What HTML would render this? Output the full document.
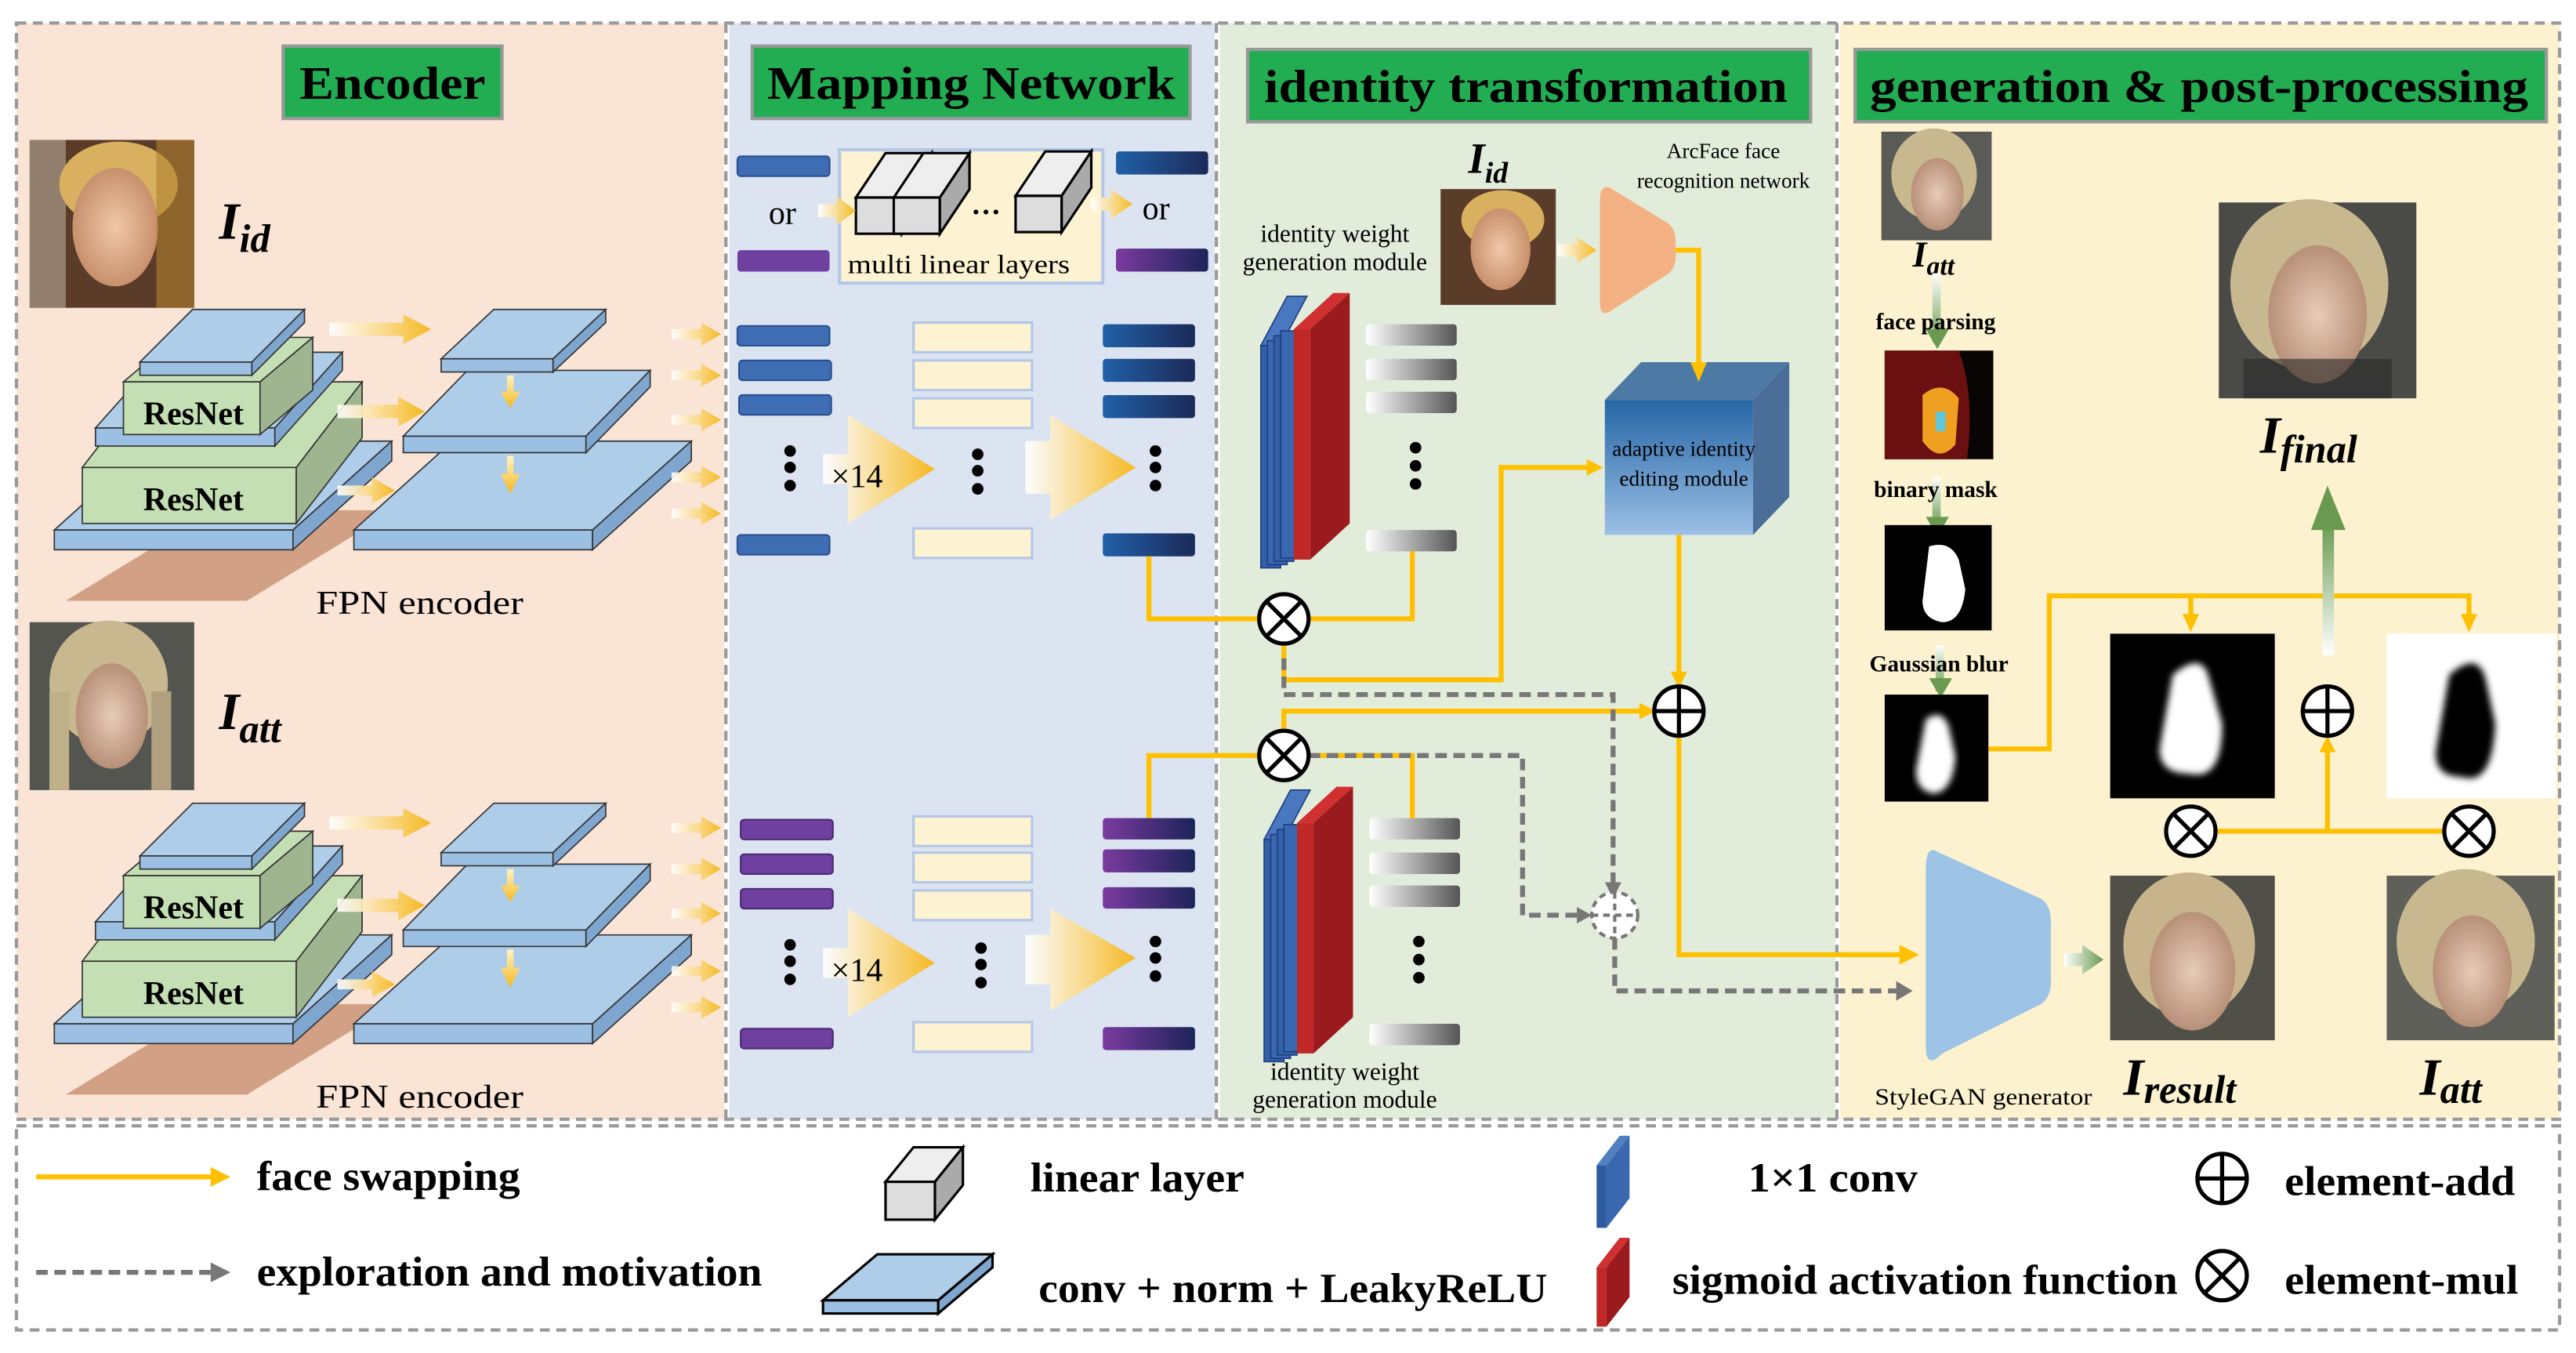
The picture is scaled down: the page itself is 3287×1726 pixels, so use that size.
<!DOCTYPE html>
<html><head><meta charset="utf-8"><style>
html,body{margin:0;padding:0;background:#fff}
svg{display:block}
text{font-family:"Liberation Serif",serif}
</style></head><body>
<svg width="3287" height="1726" viewBox="0 0 1565 822" preserveAspectRatio="none" xmlns="http://www.w3.org/2000/svg">
<defs>
<linearGradient id="ya" x1="0" x2="1"><stop offset="0" stop-color="#fff" stop-opacity="0.9"/><stop offset="1" stop-color="#f5b820"/></linearGradient>
<linearGradient id="yd" x1="0" x2="0" y1="0" y2="1"><stop offset="0" stop-color="#fff4c0"/><stop offset="1" stop-color="#f5b820"/></linearGradient>
<linearGradient id="gr" x1="0" x2="1"><stop offset="0" stop-color="#fff"/><stop offset="1" stop-color="#555"/></linearGradient>
<linearGradient id="bb" x1="0" x2="1"><stop offset="0" stop-color="#2060a8"/><stop offset="1" stop-color="#1c2a58"/></linearGradient>
<linearGradient id="pb" x1="0" x2="1"><stop offset="0" stop-color="#7b3aa0"/><stop offset="1" stop-color="#1c2458"/></linearGradient>
<linearGradient id="cube" x1="0" x2="0" y1="0" y2="1"><stop offset="0" stop-color="#2565a5"/><stop offset="1" stop-color="#9cc0e6"/></linearGradient>
<linearGradient id="gu" x1="0" x2="0" y1="1" y2="0"><stop offset="0" stop-color="#fff"/><stop offset="1" stop-color="#6a9a50"/></linearGradient>
<linearGradient id="gd" x1="0" x2="0" y1="0" y2="1"><stop offset="0" stop-color="#fff"/><stop offset="1" stop-color="#6a9a50"/></linearGradient>
<linearGradient id="gx" x1="0" x2="1"><stop offset="0" stop-color="#fff"/><stop offset="1" stop-color="#6a9a50"/></linearGradient>
<radialGradient id="skin" cx="0.5" cy="0.5" r="0.5"><stop offset="0" stop-color="#f0c8a8"/><stop offset="1" stop-color="#c8906c"/></radialGradient>
<radialGradient id="skin2" cx="0.5" cy="0.5" r="0.5"><stop offset="0" stop-color="#e8cbb8"/><stop offset="1" stop-color="#b89078"/></radialGradient>
<filter id="bl"><feGaussianBlur stdDeviation="2"/></filter>
</defs>

<rect x="10" y="14" width="430" height="666" fill="#f9e4d6"/>
<rect x="443" y="14" width="295" height="666" fill="#dce4f2"/>
<rect x="741" y="14" width="374" height="666" fill="#e2ecdb"/>
<rect x="1118" y="14" width="437" height="666" fill="#fdf2d0"/>
<g fill="none" stroke="#999" stroke-width="2" stroke-dasharray="6,4">
<rect x="10" y="14" width="1545" height="666"/>
<line x1="441" y1="14" x2="441" y2="680"/><line x1="739" y1="14" x2="739" y2="680"/><line x1="1116" y1="14" x2="1116" y2="680"/>
<rect x="10" y="684" width="1545" height="124"/>
</g>

<g stroke="#999" stroke-width="2" fill="#23ad52">
<rect x="172" y="28" width="133" height="44"/><rect x="457" y="28" width="266" height="44"/>
<rect x="758" y="30" width="342" height="44"/><rect x="1127" y="30" width="420" height="44"/>
</g>
<g font-weight="bold" font-size="28" fill="#000">
<text x="182" y="60" textLength="113" lengthAdjust="spacingAndGlyphs">Encoder</text>
<text x="466" y="60" textLength="248" lengthAdjust="spacingAndGlyphs">Mapping Network</text>
<text x="768" y="62" textLength="318" lengthAdjust="spacingAndGlyphs">identity transformation</text>
<text x="1136" y="62" textLength="400" lengthAdjust="spacingAndGlyphs">generation &amp; post-processing</text>
</g>

<g>
<rect x="18" y="85" width="100" height="102" fill="#5a3c28"/>
<rect x="18" y="85" width="22" height="102" fill="#c8c0b0" opacity="0.5"/>
<ellipse cx="72" cy="112" rx="36" ry="26" fill="#d8b060"/>
<ellipse cx="70" cy="138" rx="26" ry="36" fill="url(#skin)"/>
<rect x="95" y="85" width="23" height="102" fill="#b08030" opacity="0.6"/>
</g>
<g>
<rect x="18" y="378" width="100" height="102" fill="#555550"/>
<ellipse cx="66" cy="415" rx="36" ry="38" fill="#c8b890"/>
<ellipse cx="68" cy="435" rx="22" ry="32" fill="url(#skin2)"/>
<rect x="30" y="420" width="12" height="60" fill="#c0b088"/><rect x="92" y="420" width="12" height="60" fill="#b0a080"/>
</g>

<g font-style="italic" font-weight="bold" fill="#000">
<text x="133" y="145" font-size="32">I<tspan font-size="24" dy="8">id</tspan></text>
<text x="133" y="443" font-size="32">I<tspan font-size="24" dy="8">att</tspan></text>
</g>

<g id="enc">
<polygon points="40,365 150,365 240,310 130,310" fill="#c89070" opacity="0.8"/>
<g stroke="#333" stroke-width="0.8">
<polygon points="33,322 178,322 238,268 93,268" fill="#aecde9"/>
<rect x="33" y="322" width="145" height="12" fill="#9cc0e3"/>
<polygon points="178,322 238,268 238,280 178,334" fill="#7fa6cf"/>
<polygon points="50,284 180,284 220,232 90,232" fill="#c5dfb4"/>
<rect x="50" y="284" width="130" height="34" fill="#c5dfb4"/>
<polygon points="180,284 220,232 220,266 180,318" fill="#9fb590"/>
<polygon points="58,260 167,260 208,214 99,214" fill="#aecde9"/>
<rect x="58" y="260" width="109" height="11" fill="#9cc0e3"/>
<polygon points="167,260 208,214 208,225 167,271" fill="#7fa6cf"/>
<polygon points="75,232 158,232 190,205 107,205" fill="#c5dfb4"/>
<rect x="75" y="232" width="83" height="32" fill="#c5dfb4"/>
<polygon points="158,232 190,205 190,237 158,264" fill="#9fb590"/>
<polygon points="85,220 153,220 185,188 117,188" fill="#aecde9"/>
<rect x="85" y="220" width="68" height="8" fill="#9cc0e3"/>
<polygon points="153,220 185,188 185,196 153,228" fill="#7fa6cf"/>
<polygon points="215,322 360,322 420,268 275,268" fill="#aecde9"/>
<rect x="215" y="322" width="145" height="12" fill="#9cc0e3"/>
<polygon points="360,322 420,268 420,280 360,334" fill="#7fa6cf"/>
<polygon points="245,265 356,265 395,225 284,225" fill="#aecde9"/>
<rect x="245" y="265" width="111" height="10" fill="#9cc0e3"/>
<polygon points="356,265 395,225 395,235 356,275" fill="#7fa6cf"/>
<polygon points="268,218 336,218 368,188 300,188" fill="#aecde9"/>
<rect x="268" y="218" width="68" height="8" fill="#9cc0e3"/>
<polygon points="336,218 368,188 368,196 336,226" fill="#7fa6cf"/>
</g>
<g font-weight="bold" font-size="20" fill="#000"><text x="87" y="258">ResNet</text><text x="87" y="310">ResNet</text></g>
<g fill="url(#ya)">
<polygon points="200,196 245,196 245,191 262,200 245,209 245,204 200,204"/>
<polygon points="205,246 242,246 242,241 258,250 242,259 242,254 205,254"/>
<polygon points="205,295 226,295 226,290 240,298 226,306 226,301 205,301"/>
<polygon points="408,200 426,200 426,196 438,203 426,210 426,206 408,206"/>
<polygon points="408,225 426,225 426,221 438,228 426,235 426,231 408,231"/>
<polygon points="408,252 426,252 426,248 438,255 426,262 426,258 408,258"/>
<polygon points="408,287 426,287 426,283 438,290 426,297 426,293 408,293"/>
<polygon points="408,309 426,309 426,305 438,312 426,319 426,315 408,315"/>
</g>
<g fill="url(#yd)">
<polygon points="308,228 312,228 312,238 316,238 310,248 304,238 308,238"/>
<polygon points="308,277 312,277 312,288 316,288 310,300 304,288 308,288"/>
</g>
<text x="192" y="373" font-size="20" fill="#000" textLength="126" lengthAdjust="spacingAndGlyphs">FPN encoder</text>
</g>
<use href="#enc" transform="translate(0,300)"/>

<rect x="448" y="95" width="56" height="12" rx="2" fill="#3f6db4" stroke="#2a4f8f"/>
<rect x="448" y="152" width="56" height="13" rx="2" fill="#7040a0"/>
<text x="467" y="136" font-size="20">or</text>
<rect x="510" y="91" width="160" height="81" fill="#fdf3d2" stroke="#b4c7e7" stroke-width="2"/>
<g stroke="#000" stroke-width="1.5">
<polygon points="520,120 538,93 566,93 548,120" fill="#eee"/><rect x="520" y="120" width="28" height="22" fill="#ddd"/><polygon points="548,120 566,93 566,115 548,142" fill="#aaa"/>
<polygon points="543,120 561,93 589,93 571,120" fill="#eee"/><rect x="543" y="120" width="28" height="22" fill="#ddd"/><polygon points="571,120 589,93 589,115 571,142" fill="#aaa"/>
<polygon points="617,119 635,92 663,92 645,119" fill="#eee"/><rect x="617" y="119" width="28" height="22" fill="#ddd"/><polygon points="645,119 663,92 663,114 645,141" fill="#aaa"/>
</g>
<text x="590" y="130" font-size="18" font-weight="bold">…</text>
<text x="515" y="166" font-size="16" textLength="135" lengthAdjust="spacingAndGlyphs">multi linear layers</text>
<polygon points="497,124 508,124 508,119 520,128 508,137 508,132 497,132" fill="url(#ya)"/>
<polygon points="663,120 675,120 675,115 688,124 675,133 675,128 663,128" fill="url(#ya)"/>
<text x="694" y="133" font-size="20">or</text>
<rect x="678" y="92" width="56" height="14" rx="2" fill="url(#bb)"/>
<rect x="678" y="151" width="56" height="14" rx="2" fill="url(#pb)"/>

<g fill="#3f6db4" stroke="#2a4f8f"><rect x="448" y="198" width="56" height="12" rx="2"/><rect x="449" y="219" width="56" height="12" rx="2"/><rect x="449" y="240" width="56" height="12" rx="2"/><rect x="448" y="325" width="56" height="12" rx="2"/></g>
<g fill="#fdf3d2" stroke="#b4c7e7" stroke-width="1.5"><rect x="555" y="196" width="72" height="18"/><rect x="555" y="219" width="72" height="18"/><rect x="555" y="242" width="72" height="18"/><rect x="555" y="321" width="72" height="18"/></g>
<g fill="url(#bb)"><rect x="670" y="197" width="56" height="14" rx="2"/><rect x="670" y="218" width="56" height="14" rx="2"/><rect x="670" y="240" width="56" height="14" rx="2"/><rect x="670" y="324" width="56" height="14" rx="2"/></g>
<g fill="#000"><circle cx="480" cy="274" r="3.5"/><circle cx="480" cy="284" r="3.5"/><circle cx="480" cy="295" r="3.5"/>
<circle cx="594" cy="276" r="3.5"/><circle cx="594" cy="286" r="3.5"/><circle cx="594" cy="297" r="3.5"/>
<circle cx="702" cy="274" r="3.5"/><circle cx="702" cy="284" r="3.5"/><circle cx="702" cy="295" r="3.5"/>
<circle cx="480" cy="574" r="3.5"/><circle cx="480" cy="584" r="3.5"/><circle cx="480" cy="595" r="3.5"/>
<circle cx="596" cy="576" r="3.5"/><circle cx="596" cy="586" r="3.5"/><circle cx="596" cy="597" r="3.5"/>
<circle cx="702" cy="572" r="3.5"/><circle cx="702" cy="582" r="3.5"/><circle cx="702" cy="593" r="3.5"/></g>
<g fill="url(#ya)">
<polygon points="500,276 515,276 515,252 568,285 515,318 515,294 500,294"/>
<polygon points="623,268 638,268 638,252 690,284 638,316 638,300 623,300"/>
<polygon points="500,576 515,576 515,552 568,585 515,618 515,594 500,594"/>
<polygon points="623,568 638,568 638,552 690,582 638,614 638,598 623,598"/>
</g>
<text x="505" y="296" font-size="20">×14</text>
<text x="505" y="596" font-size="20">×14</text>
<g fill="#7040a0" stroke="#4a2870"><rect x="450" y="498" width="56" height="12" rx="2"/><rect x="450" y="519" width="56" height="12" rx="2"/><rect x="450" y="540" width="56" height="12" rx="2"/><rect x="450" y="625" width="56" height="12" rx="2"/></g>
<g fill="#fdf3d2" stroke="#b4c7e7" stroke-width="1.5"><rect x="555" y="496" width="72" height="18"/><rect x="555" y="518" width="72" height="18"/><rect x="555" y="541" width="72" height="18"/><rect x="555" y="621" width="72" height="18"/></g>
<g fill="url(#pb)"><rect x="670" y="497" width="56" height="13" rx="2"/><rect x="670" y="516" width="56" height="14" rx="2"/><rect x="670" y="539" width="56" height="13" rx="2"/><rect x="670" y="624" width="56" height="14" rx="2"/></g>

<text x="811" y="147" font-size="15" text-anchor="middle">identity weight</text>
<text x="811" y="164" font-size="15" text-anchor="middle">generation module</text>
<g id="stack">
<g stroke="#1e3f80" stroke-width="0.8">
<polygon points="766,210 782,180 794,180 778,210" fill="#4a78c0"/>
<rect x="766" y="210" width="12" height="135" fill="#3460a8"/>
<rect x="770" y="207" width="12" height="136" fill="#3a68b0"/>
<rect x="774" y="204" width="12" height="137" fill="#3460a8"/>
<rect x="778" y="201" width="12" height="138" fill="#3a68b0"/>
</g>
<polygon points="786,200 810,178 820,178 796,200" fill="#d03030"/>
<polygon points="786,200 796,200 796,340 786,340" fill="#c02828"/>
<polygon points="796,200 820,178 820,318 796,340" fill="#9b1a1e"/>
<g fill="url(#gr)"><rect x="830" y="197" width="55" height="13" rx="2"/><rect x="830" y="218" width="55" height="13" rx="2"/><rect x="830" y="238" width="55" height="13" rx="2"/><rect x="830" y="322" width="55" height="13" rx="2"/></g>
<g fill="#000"><circle cx="860" cy="272" r="3.5"/><circle cx="860" cy="283" r="3.5"/><circle cx="860" cy="294" r="3.5"/></g>
</g>
<use href="#stack" transform="translate(2,300)"/>
<text x="817" y="656" font-size="15" text-anchor="middle">identity weight</text>
<text x="817" y="673" font-size="15" text-anchor="middle">generation module</text>

<text x="892" y="105" font-size="26" font-style="italic" font-weight="bold">I<tspan font-size="18" dy="6">id</tspan></text>
<g transform="translate(857,30) scale(0.7,0.69)">
<rect x="26" y="123" width="100" height="102" fill="#5a3c28"/>
<ellipse cx="80" cy="150" rx="36" ry="26" fill="#d8b060"/>
<ellipse cx="78" cy="176" rx="26" ry="36" fill="url(#skin)"/>
</g>
<text x="1047" y="96" font-size="13" text-anchor="middle">ArcFace face</text>
<text x="1047" y="114" font-size="13" text-anchor="middle">recognition network</text>
<path d="M978,114 Q972,112 972,122 L972,184 Q972,194 980,188 L1014,166 Q1018,162 1018,156 L1018,146 Q1018,140 1014,136 Z" fill="#f4b183"/>
<polygon points="946,148 958,148 958,144 970,152 958,160 958,156 946,156" fill="url(#ya)"/>

<polygon points="975,243 1065,243 1087,220 997,220" fill="#4c7aa4"/>
<rect x="975" y="243" width="90" height="82" fill="url(#cube)"/>
<polygon points="1065,243 1087,220 1087,302 1065,325" fill="#4a6e98"/>
<text x="1023" y="277" font-size="13" text-anchor="middle">adaptive identity</text>
<text x="1023" y="295" font-size="13" text-anchor="middle">editing module</text>

<g fill="none" stroke="#ffc000" stroke-width="3">
<polyline points="1018,152 1032,152 1032,222"/>
<polyline points="698,338 698,376 765,376"/>
<polyline points="858,335 858,376 795,376"/>
<polyline points="780,391 780,413 912,413 912,284 966,284"/>
<polyline points="1020,325 1020,410"/>
<polyline points="698,497 698,459 765,459"/>
<polyline points="858,497 858,459 795,459"/>
<polyline points="780,444 780,432 998,432"/>
<polyline points="1020,447 1020,580 1156,580"/>
<polyline points="1208,455 1245,455 1245,362 1500,362 1500,375"/>
<polyline points="1331,362 1331,375"/>
<polyline points="1346,505 1485,505"/>
<polyline points="1414,505 1414,456"/>
</g>
<g fill="#ffc000">
<polygon points="1027,220 1037,220 1032,232"/>
<polygon points="964,279 964,289 974,284"/>
<polygon points="1015,408 1025,408 1020,418"/>
<polygon points="996,427 996,437 1006,432"/>
<polygon points="1154,574 1154,586 1166,580"/>
<polygon points="1326,373 1336,373 1331,384"/>
<polygon points="1495,373 1505,373 1500,384"/>
<polygon points="1409,457 1419,457 1414,447"/>
</g>
<g fill="none" stroke="#777" stroke-width="3" stroke-dasharray="7,4">
<polyline points="780,400 780,422 980,422 980,538"/>
<polyline points="795,459 925,459 925,556 960,556"/>
<polyline points="981,570 981,602 1152,602"/>
</g>
<g fill="#777"><polygon points="975,536 985,536 980,546"/><polygon points="958,551 958,561 967,556"/><polygon points="1152,596 1152,608 1162,602"/></g>

<g fill="#fff" stroke="#000" stroke-width="2.5">
<circle cx="780" cy="376" r="15"/><circle cx="780" cy="459" r="15"/>
<circle cx="1020" cy="432" r="15"/>
<circle cx="1414" cy="432" r="15"/>
<circle cx="1331" cy="505" r="15"/><circle cx="1500" cy="505" r="15"/>
</g>
<g stroke="#000" stroke-width="2.5">
<path d="M769,365 L791,387 M791,365 L769,387"/><path d="M769,448 L791,470 M791,448 L769,470"/>
<path d="M1005,432 H1035 M1020,417 V447"/><path d="M1399,432 H1429 M1414,417 V447"/>
<path d="M1320,494 L1342,516 M1342,494 L1320,516"/><path d="M1489,494 L1511,516 M1511,494 L1489,516"/>
</g>
<circle cx="981" cy="556" r="14" fill="#fff" stroke="#777" stroke-width="2" stroke-dasharray="4,3"/>
<path d="M967,556 H995 M981,542 V570" stroke="#777" stroke-width="2" stroke-dasharray="4,3"/>

<g transform="translate(1143,80)">
<rect width="67" height="66" fill="#5a5a56"/><ellipse cx="32" cy="26" rx="26" ry="28" fill="#c8b890"/><ellipse cx="34" cy="38" rx="16" ry="22" fill="url(#skin2)"/>
</g>
<text x="1162" y="162" font-size="22" font-style="italic" font-weight="bold">I<tspan font-size="16" dy="5">att</tspan></text>
<rect x="1174" y="166" width="5" height="42" fill="url(#gd)"/><polygon points="1170,200 1184,200 1177,212" fill="#6a9a50"/>
<text x="1176" y="200" font-size="14" font-weight="bold" text-anchor="middle">face parsing</text>
<rect x="1145" y="213" width="66" height="66" fill="#0a0505"/>
<path d="M1145,213 H1190 Q1200,240 1195,279 H1145 Z" fill="#6a1010"/>
<path d="M1168,240 Q1180,230 1190,242 L1188,270 Q1178,282 1168,268 Z" fill="#f0a020"/>
<rect x="1176" y="250" width="6" height="12" fill="#60c8d8"/>
<rect x="1174" y="290" width="5" height="30" fill="url(#gd)"/><polygon points="1170,314 1184,314 1177,326" fill="#6a9a50"/>
<text x="1176" y="302" font-size="14" font-weight="bold" text-anchor="middle">binary mask</text>
<rect x="1145" y="319" width="65" height="64" fill="#000"/>
<path d="M1172,332 Q1185,328 1190,340 L1194,358 Q1192,378 1180,378 Q1168,376 1168,365 Z" fill="#fff"/>
<rect x="1176" y="392" width="5" height="28" fill="url(#gd)"/><polygon points="1172,412 1186,412 1179,424" fill="#6a9a50"/>
<text x="1178" y="408" font-size="14" font-weight="bold" text-anchor="middle">Gaussian blur</text>
<rect x="1145" y="422" width="63" height="65" fill="#000"/>
<path d="M1170,437 Q1180,430 1184,442 L1188,460 Q1186,482 1174,482 Q1164,480 1164,468 Z" fill="#fff" filter="url(#bl)"/>

<g transform="translate(1348,123)">
<rect width="120" height="119" fill="#4a4a46"/><ellipse cx="55" cy="50" rx="48" ry="52" fill="#c8b890"/><ellipse cx="60" cy="68" rx="30" ry="42" fill="url(#skin2)"/><rect x="15" y="95" width="90" height="24" fill="#2a2a2a" opacity="0.6"/>
</g>
<text x="1373" y="275" font-size="32" font-style="italic" font-weight="bold">I<tspan font-size="24" dy="6">final</tspan></text>
<rect x="1411" y="318" width="7" height="80" fill="url(#gu)"/><polygon points="1404,322 1425,322 1414,295" fill="#6a9a50"/>

<rect x="1282" y="385" width="100" height="100" fill="#000"/>
<path d="M1320,410 Q1338,395 1342,412 L1350,440 Q1350,475 1330,470 Q1312,470 1312,455 Z" fill="#fff" filter="url(#bl)"/>
<rect x="1450" y="385" width="103" height="100" fill="#fff"/>
<path d="M1488,410 Q1505,395 1510,412 L1516,440 Q1514,478 1496,472 Q1478,472 1480,455 Z" fill="#000" filter="url(#bl)"/>

<path d="M1178,518 Q1170,512 1170,528 L1170,636 Q1170,650 1180,640 L1240,610 Q1246,606 1246,596 L1246,560 Q1246,550 1240,546 Z" fill="#9dc3e6"/>
<text x="1205" y="671" font-size="14" text-anchor="middle" textLength="132" lengthAdjust="spacingAndGlyphs">StyleGAN generator</text>
<polygon points="1254,579 1265,579 1265,574 1278,583 1265,592 1265,587 1254,587" fill="url(#gx)"/>
<g transform="translate(1282,532)">
<rect width="100" height="100" fill="#505048"/><ellipse cx="48" cy="42" rx="40" ry="44" fill="#c8b48c"/><ellipse cx="50" cy="58" rx="26" ry="36" fill="url(#skin2)"/>
</g>
<g transform="translate(1450,532)">
<rect width="102" height="100" fill="#60605a"/><ellipse cx="48" cy="40" rx="42" ry="44" fill="#c8b890"/><ellipse cx="52" cy="58" rx="24" ry="34" fill="url(#skin2)"/>
</g>
<text x="1290" y="665" font-size="32" font-style="italic" font-weight="bold">I<tspan font-size="24" dy="5">result</tspan></text>
<text x="1470" y="665" font-size="32" font-style="italic" font-weight="bold">I<tspan font-size="24" dy="5">att</tspan></text>

<line x1="22" y1="715" x2="130" y2="715" stroke="#ffc000" stroke-width="3"/><polygon points="128,709 128,721 140,715" fill="#ffc000"/>
<line x1="22" y1="773" x2="128" y2="773" stroke="#777" stroke-width="3" stroke-dasharray="7,4"/><polygon points="128,767 128,779 140,773" fill="#777"/>
<g font-size="25" font-weight="bold">
<text x="156" y="723" textLength="160" lengthAdjust="spacingAndGlyphs">face swapping</text>
<text x="156" y="781" textLength="307" lengthAdjust="spacingAndGlyphs">exploration and motivation</text>
<text x="626" y="724" textLength="130" lengthAdjust="spacingAndGlyphs">linear layer</text>
<text x="631" y="791" textLength="309" lengthAdjust="spacingAndGlyphs">conv + norm + LeakyReLU</text>
<text x="1062" y="724" textLength="103" lengthAdjust="spacingAndGlyphs">1×1 conv</text>
<text x="1016" y="786" textLength="307" lengthAdjust="spacingAndGlyphs">sigmoid activation function</text>
<text x="1388" y="726" textLength="140" lengthAdjust="spacingAndGlyphs">element-add</text>
<text x="1388" y="786" textLength="142" lengthAdjust="spacingAndGlyphs">element-mul</text>
</g>
<g stroke="#000" stroke-width="1.5">
<polygon points="538,718 555,697 585,697 568,718" fill="#eee"/><rect x="538" y="718" width="30" height="23" fill="#ddd"/><polygon points="568,718 585,697 585,720 568,741" fill="#aaa"/>
<polygon points="500,790 570,790 603,762 533,762" fill="#aecde9"/><rect x="500" y="790" width="70" height="8" fill="#9cc0e3"/><polygon points="570,790 603,762 603,770 570,798" fill="#7fa6cf"/>
</g>
<polygon points="970,708 984,690 990,690 976,708" fill="#5080c0"/><rect x="970" y="708" width="6" height="38" fill="#2e5aa0"/><polygon points="976,708 990,690 990,728 976,746" fill="#3a68b0"/>
<polygon points="970,770 984,752 990,752 976,770" fill="#d03030"/><rect x="970" y="770" width="6" height="36" fill="#c02828"/><polygon points="976,770 990,752 990,788 976,806" fill="#9b1a1e"/>
<g fill="#fff" stroke="#000" stroke-width="2.5"><circle cx="1350" cy="716" r="15"/><circle cx="1350" cy="775" r="15"/></g>
<path d="M1335,716 H1365 M1350,701 V731 M1339,764 L1361,786 M1361,764 L1339,786" stroke="#000" stroke-width="2.5"/>
</svg>
</body></html>
